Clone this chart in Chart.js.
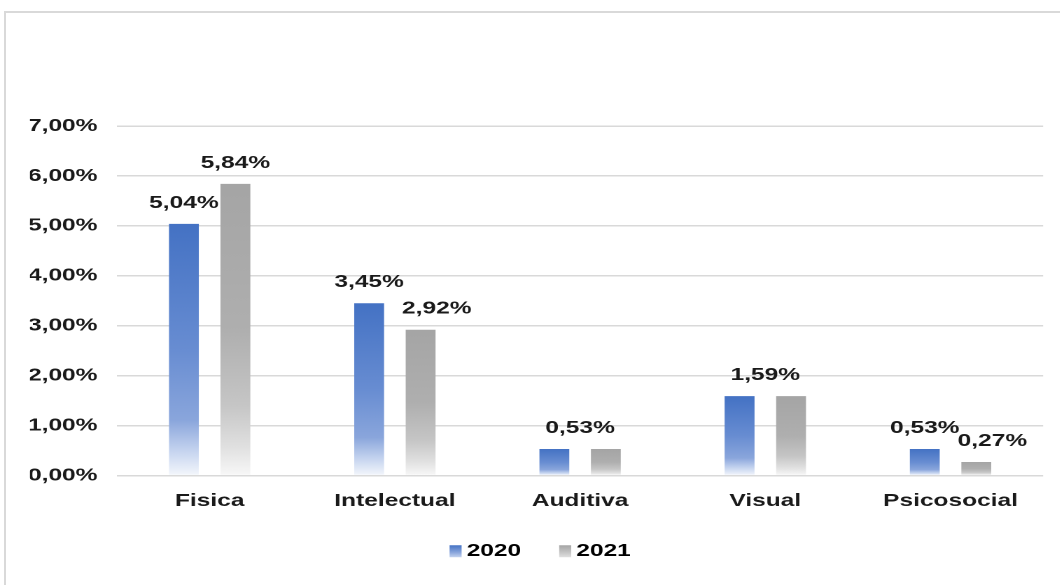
<!DOCTYPE html>
<html>
<head>
<meta charset="utf-8">
<script src="https://cdn.jsdelivr.net/npm/chart.js@4"></script>
<style>
    html, body { margin: 0; padding: 0; background: #fff; overflow: hidden; }
    .frame { position: absolute; left: 4px; top: 11px; width: 1100px; height: 640px; border: 2px solid #d9d9d9; }
    /* the reference text is stretched wide, so the chart is drawn narrow and scaled on x */
    .wrap { position: absolute; left: 0; top: 0; height: 585px; transform-origin: 0 0; }
</style>
</head>
<body>
<div class="frame"></div>
<div class="wrap" id="wrap"><canvas id="grafico"></canvas></div>
<script>
// Data
const categorias = ['Fisica', 'Intelectual', 'Auditiva', 'Visual', 'Psicosocial'];
const anios = ['2020', '2021'];
const valores2020 = [5.04, 3.45, 0.53, 1.59, 0.53];
const valores2021 = [5.84, 2.92, 0.53, 1.59, 0.27];
const ticksY = [0, 1, 2, 3, 4, 5, 6, 7];

const SX = 1.4;
const W = 1060 / SX;
const wrap = document.getElementById('wrap');
wrap.style.width = W + 'px';
wrap.style.transform = 'scaleX(' + SX + ')';

const FUENTE = 'Liberation Sans, Arial, sans-serif';
const TAM = 17.5;
const CAJA = 8.6;
const formato = v => v.toFixed(2).replace('.', ',') + '%';

// gradient stops per series: solid on top, fading to white at the base
const paradas = [
    [[0, '#4472C4'], [0.5, '#688DD2'], [0.78, '#8AA6DC'], [0.9, '#C4D3EF'], [1, '#F4F7FC']],
    [[0, '#A5A5A5'], [0.5, '#AFAFAF'], [0.76, '#C6C6C6'], [0.9, '#E0E0E0'], [1, '#F8F8F8']]
];

function relleno(serie) {
    return (ctx) => {
        const chart = ctx.chart;
        if (!chart.chartArea || ctx.type !== 'data') return paradas[serie][0][1];
        const y = chart.scales.y;
        const top = y.getPixelForValue(ctx.raw);
        const base = y.getPixelForValue(0);
        const g = chart.ctx.createLinearGradient(0, top, 0, base);
        paradas[serie].forEach(([p, c]) => g.addColorStop(p, c));
        return g;
    };
}

// value labels above the bars
const etiquetas = {
    id: 'etiquetas',
    afterDatasetsDraw(chart) {
        const ctx = chart.ctx;
        const m0 = chart.getDatasetMeta(0).data;
        const m1 = chart.getDatasetMeta(1).data;
        ctx.save();
        ctx.font = 'bold ' + TAM + 'px ' + FUENTE;
        ctx.fillStyle = '#1a1a1a';
        ctx.textAlign = 'center';
        ctx.textBaseline = 'alphabetic';
        categorias.forEach((c, i) => {
            const a = valores2020[i], b = valores2021[i];
            if (a === b) {
                ctx.fillText(formato(a), (m0[i].x + m1[i].x) / 2, m0[i].y - 16);
            } else {
                ctx.fillText(formato(a), m0[i].x, m0[i].y - 16);
                const dx = b < a ? 11.5 : 0;
                ctx.fillText(formato(b), m1[i].x + dx, m1[i].y - 16);
            }
        });
        ctx.restore();
    }
};

// legend markers drawn close to their text (the built-in box is left transparent)
const marcas = {
    id: 'marcas',
    afterDraw(chart) {
        const leg = chart.legend;
        if (!leg || !leg.legendHitBoxes) return;
        const ctx = chart.ctx;
        ctx.save();
        leg.legendHitBoxes.forEach((h, i) => {
            const textoX = h.left + CAJA + TAM / 2;
            const x = textoX - 3.6 - CAJA;
            const y = h.top + h.height / 2 - 6;
            const g = ctx.createLinearGradient(0, y, 0, y + 12);
            g.addColorStop(0, paradas[i][0][1]);
            g.addColorStop(0.6, paradas[i][2][1]);
            g.addColorStop(1, paradas[i][3][1]);
            ctx.fillStyle = g;
            ctx.fillRect(x, y, CAJA, 12);
        });
        ctx.restore();
    }
};

new Chart(document.getElementById('grafico'), {
    type: 'bar',
    data: {
        labels: categorias,
        datasets: [
            { label: anios[0], data: valores2020, backgroundColor: relleno(0) },
            { label: anios[1], data: valores2021, backgroundColor: relleno(1) }
        ]
    },
    options: {
        responsive: true,
        maintainAspectRatio: false,
        animation: false,
        devicePixelRatio: 2,
        categoryPercentage: 0.556,
        barPercentage: 0.58,
        layout: { padding: { top: 126, right: 12, left: 21.4, bottom: 15 } },
        scales: {
            x: {
                grid: { display: false },
                border: { display: false },
                ticks: { color: '#1a1a1a', padding: 7, font: { family: FUENTE, size: TAM, weight: 'bold' } },
                afterFit: s => { s.height = 45; }
            },
            y: {
                min: 0,
                max: 7,
                afterBuildTicks: s => { s.ticks = ticksY.map(v => ({ value: v })); },
                grid: { color: '#d9d9d9', lineWidth: 1.5, drawTicks: false },
                border: { display: false },
                ticks: {
                    color: '#1a1a1a',
                    padding: 14,
                    font: { family: FUENTE, size: TAM, weight: 'bold' },
                    callback: v => formato(v)
                },
                afterFit: s => { s.width = 62.2; }
            }
        },
        plugins: {
            tooltip: { enabled: false },
            legend: {
                position: 'bottom',
                labels: {
                    boxWidth: CAJA,
                    boxHeight: 12,
                    padding: 22,
                    color: '#1a1a1a',
                    font: { family: FUENTE, size: TAM, weight: 'bold' },
                    generateLabels: () => anios.map((a, i) => ({
                        text: a,
                        fillStyle: 'rgba(0,0,0,0)',
                        strokeStyle: 'rgba(0,0,0,0)',
                        lineWidth: 0,
                        datasetIndex: i
                    }))
                }
            }
        }
    },
    plugins: [etiquetas, marcas]
});
</script>
</body>
</html>
